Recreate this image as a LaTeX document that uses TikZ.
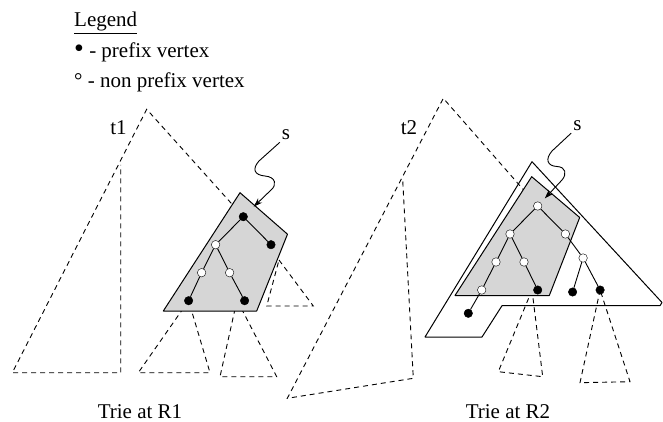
\documentclass[tikz,border=0pt]{standalone}
\usepackage{fontspec}
\setmainfont{Liberation Serif}
\usetikzlibrary{arrows.meta,positioning,backgrounds}

\begin{document}
\begin{tikzpicture}[x=1pt, y=-1pt, on grid, every node/.style={font=\fontsize{21}{25}\selectfont}, pv/.style={circle,draw,fill=black,inner sep=0pt,minimum size=8.5pt}, npv/.style={pv,fill=white}, tedge/.style={line width=0.9pt}, sub/.style={line width=0.9pt,dash pattern=on 5pt off 4pt}, part/.style={draw,line width=1pt,fill=black!16,line join=round}, sarr/.style={-{Stealth[length=9pt,width=6pt]},line width=0.9pt}, lbl/.style={anchor=base,inner sep=2pt}]
\useasboundingbox (0,0) rectangle (663,422);
% legend
\node[anchor=base west,inner sep=0pt] (legend) at (74,27) {\underline{Legend}};
\node[anchor=base west,inner sep=0pt] (pfx) at (74,58) {{\fontsize{28}{25}\selectfont •} - prefix vertex};
\node[anchor=base west,inner sep=0pt] (npfx) at (74,88) {° - non prefix vertex};

% trie at R1
\node[pv] (r1) at (243.3,216.7) {};
\node[npv,below left=28pt and 27.7pt of r1] (a1) {};
\node[pv,below right=28pt and 27.7pt of r1] (b1) {};
\node[npv,below left=28pt and 14pt of a1] (aa1) {};
\node[npv,below right=28pt and 14pt of a1] (ab1) {};
\node[pv,below left=28pt and 13pt of aa1] (aaa1) {};
\node[pv,below right=28pt and 15pt of ab1] (abb1) {};
\draw[tedge] (r1) -- (a1) (r1) -- (b1) (a1) -- (aa1) (a1) -- (ab1) (aa1) -- (aaa1) (ab1) -- (abb1);
\node[lbl] (t1) at (118.5,135) {t1};
\node[lbl] (s1) at (286,140) {s};
\node[lbl] (cap1) at (140,418) {Trie at R1};
\draw[sarr,shorten >=10pt] (s1.south west) -- (259,161) .. controls (252,169) and (254,175) .. (265,176) .. controls (276,177) and (277,185) .. (271,190) -- (r1);

% trie at R2
\node[npv] (r2) at (537.7,206) {};
\node[npv,below left=28pt and 27.7pt of r2] (a2) {};
\node[npv,below right=28pt and 27.7pt of r2] (b2) {};
\node[npv,below left=28pt and 14pt of a2] (aa2) {};
\node[npv,below right=28pt and 14pt of a2] (ab2) {};
\node[npv,below right=24pt and 17.7pt of b2] (bb2) {};
\node[npv,below left=28pt and 14.3pt of aa2] (aaa2) {};
\node[pv,below right=28pt and 13.7pt of ab2] (abb2) {};
\node[pv,below left=34pt and 10.5pt of bb2] (bba2) {};
\node[pv,below right=32pt and 17pt of bb2] (bbb2) {};
\node[pv,below left=23.3pt and 13.4pt of aaa2] (aaaa2) {};
\draw[tedge] (r2) -- (a2) (r2) -- (b2) (a2) -- (aa2) (a2) -- (ab2) (aa2) -- (aaa2) (ab2) -- (abb2) (b2) -- (bb2) (bb2) -- (bba2) (bb2) -- (bbb2) (aaa2) -- (aaaa2);
\node[lbl] (t2) at (409,135) {t2};
\node[lbl] (s2) at (577.5,130.7) {s};
\node[lbl] (cap2) at (508,418) {Trie at R2};
\draw[sarr,shorten >=6pt] (s2.south west) -- (552,151) .. controls (545,159) and (547,166) .. (557,166.5) .. controls (566,167) and (567,174) .. (562,180) -- (r2);

\begin{scope}[on background layer]
% tries and shaded parts
\draw[sub] (r1.center) -- (146.7,109.3) -- (12.3,372.7) -- (120.7,372.7) -- (120.7,165);
\draw[sub] (279,260) -- (313.3,306) -- (266.7,306) -- cycle;
\draw[sub] (aaa1.center) -- (138.3,372.7) -- (210,372.7) -- cycle;
\draw[sub] (237,300) -- (220,376.7) -- (276.7,376.7) -- cycle;
\draw[part] (240,192.7) -- (287.5,234.2) -- (256.7,311) -- (163.3,311) -- cycle;
\draw[sub] (r2.center) -- (443.3,98.3) -- (287.3,398.3) -- (413.3,378.3) -- (402.7,180);
\draw[sub] (532,290) -- (498.3,371.7) -- (542.7,376.7) -- cycle;
\draw[sub] (bbb2.center) -- (580,382.7) -- (630,381.7) -- cycle;
\draw[line width=1pt,line join=round] (532,161.7) -- (662,302.5) -- (660,305.7) -- (502,305.7) -- (482,337) -- (425,337) -- cycle;
\draw[part] (531.7,176.7) -- (579.7,217.5) -- (549.3,295.5) -- (455,295.5) -- cycle;
\end{scope}
\end{tikzpicture}
\end{document}
